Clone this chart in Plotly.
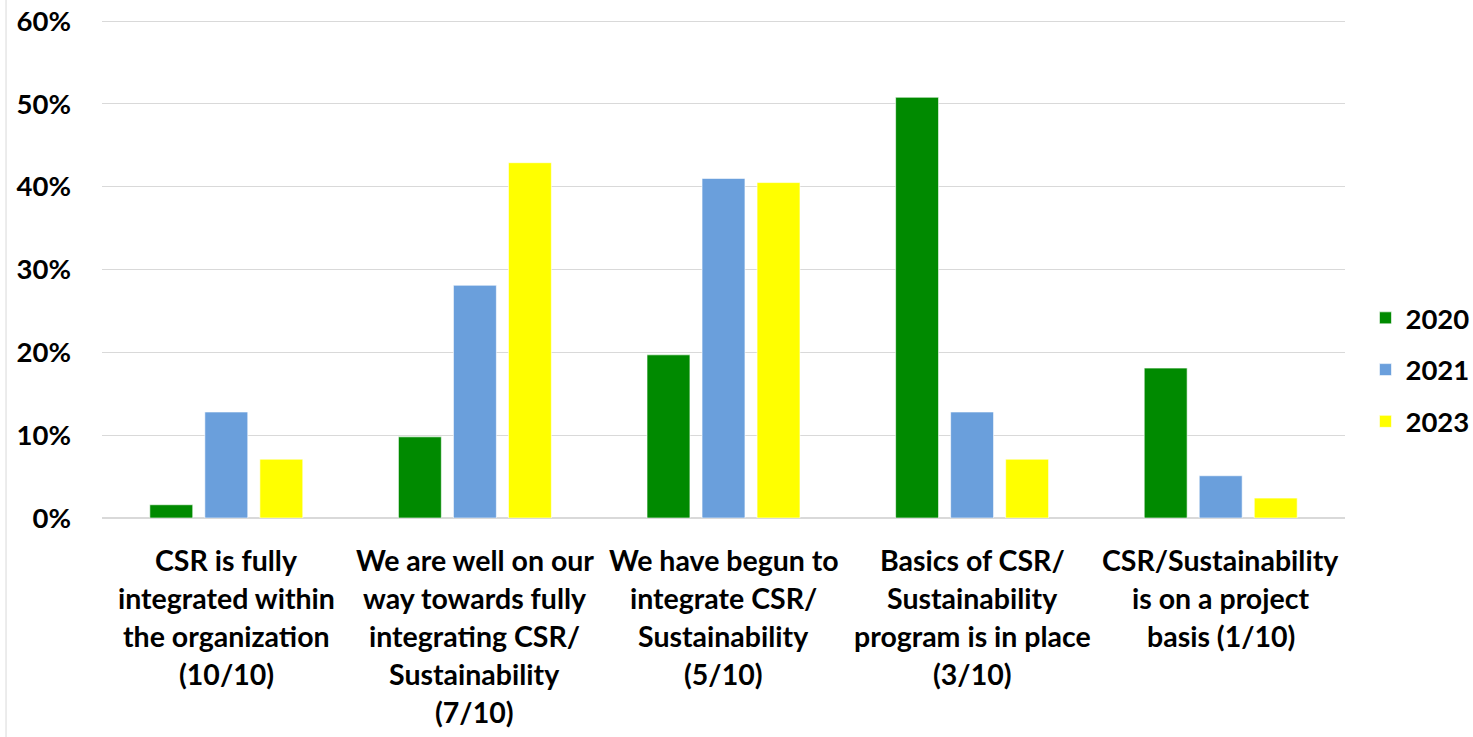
import plotly.graph_objects as go

categories = [
    ["CSR is fully", "integrated within", "the organization", "(10/10)"],
    ["We are well on our", "way towards fully", "integrating CSR/", "Sustainability", "(7/10)"],
    ["We have begun to", "integrate CSR/", "Sustainability", "(5/10)"],
    ["Basics of CSR/", "Sustainability", "program is in place", "(3/10)"],
    ["CSR/Sustainability", "is on a project", "basis (1/10)"],
]
cat_keys = [" ".join(c) for c in categories]
years = ["2020", "2021", "2023"]
v2020 = [0.016, 0.098, 0.197, 0.508, 0.181]
v2021 = [0.128, 0.281, 0.410, 0.128, 0.051]
v2023 = [0.071, 0.429, 0.405, 0.071, 0.024]
colors = ["#008A00", "#6A9FDC", "#FFFF00"]

FONT = "Lato"
fig = go.Figure()
for name, vals, col in zip(years, [v2020, v2021, v2023], colors):
    fig.add_trace(go.Bar(
        x=cat_keys, y=vals, name=name, legendgroup=name,
        marker=dict(color=col, line=dict(color="rgba(255,255,255,0.6)", width=1)),
    ))

annotations = []
for key, lines in zip(cat_keys, categories):
    for i, line in enumerate(lines):
        annotations.append(dict(
            x=key, xref="x", y=0, yref="paper", yshift=-(42 + 38 * i),
            text=line, showarrow=False, yanchor="middle", xanchor="center",
            font=dict(family=FONT, size=28.5, color="#000000", weight="bold"),
        ))

fig.update_layout(
    width=1473, height=737,
    margin=dict(l=102, r=128, t=19, b=219, autoexpand=False),
    paper_bgcolor="white", plot_bgcolor="white",
    barmode="group", bargap=0.336, bargroupgap=0.22,
    font=dict(family=FONT, size=27, color="#000000", weight="bold"),
    legend=dict(xref="container", yref="container", x=0.927, xanchor="left",
                y=0.498, yanchor="middle",
                font=dict(family=FONT, size=27.5, color="#000000", weight="bold"),
                tracegroupgap=13, bgcolor="rgba(0,0,0,0)"),
    annotations=annotations,
    shapes=[dict(type="line", xref="paper", yref="paper", x0=-0.0772, x1=-0.0772,
                 y0=-0.45, y1=1.05, line=dict(color="#d9d9d9", width=1))],
)
fig.update_xaxes(showticklabels=False, showline=False, ticks="", automargin=False)
fig.update_yaxes(range=[0, 0.6025], tickvals=[0, 0.1, 0.2, 0.3, 0.4, 0.5, 0.6],
                 tickformat=".0%", showgrid=True, automargin=False,
                 gridcolor="#d9d9d9", gridwidth=1, zeroline=True, zerolinecolor="#d9d9d9",
                 showline=False, ticks="", ticklabelstandoff=30,
                 tickfont=dict(family=FONT, size=27.5, color="#000000", weight="bold"))

fig.write_html("out.html", config={"displayModeBar": False},
               post_script="document.body.style.margin='0px';document.body.style.overflow='hidden';")
